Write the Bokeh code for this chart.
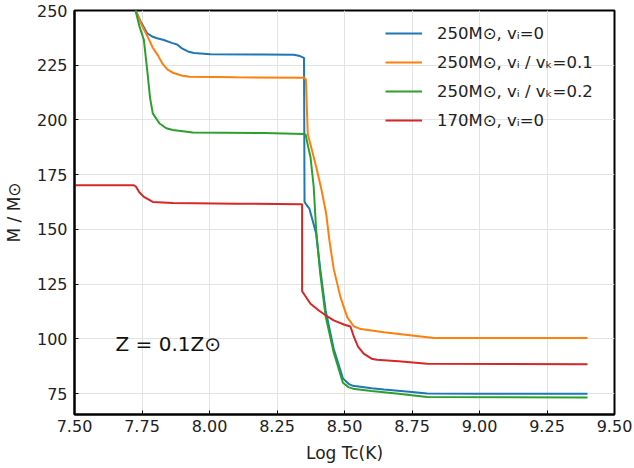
from bokeh.plotting import figure
from bokeh.models import FixedTicker, NumeralTickFormatter, Range1d, Label
from bokeh.embed import file_html
from bokeh.resources import INLINE

# --- data ---
blue_x = [7.726, 7.745, 7.769, 7.790, 7.806, 7.831, 7.860, 7.880, 7.898, 7.920, 7.942, 8.004,
          8.200, 8.312, 8.335, 8.350, 8.352, 8.358, 8.370, 8.380, 8.395, 8.410, 8.430, 8.460,
          8.494, 8.515, 8.531, 8.600, 8.646, 8.750, 8.806, 9.000, 9.400]
blue_y = [250.0, 245.0, 239.6, 238.0, 237.3, 236.5, 235.2, 234.5, 232.7, 231.3, 230.6, 230.0,
          229.9, 229.8, 229.2, 228.4, 162.6, 161.5, 159.5, 155.0, 148.0, 132.0, 113.0, 95.5,
          82.0, 79.5, 78.6, 77.5, 76.9, 75.8, 75.1, 75.0, 75.0]

orange_x = [7.726, 7.750, 7.769, 7.790, 7.809, 7.827, 7.845, 7.864, 7.900, 7.926, 8.100, 8.350,
            8.357, 8.364, 8.380, 8.395, 8.415, 8.432, 8.444, 8.460, 8.485, 8.510, 8.534, 8.560,
            8.646, 8.750, 8.831, 9.150, 9.400]
orange_y = [250.0, 243.0, 238.5, 233.0, 229.5, 225.5, 223.0, 221.6, 220.2, 219.7, 219.5, 219.3,
            218.5, 193.5, 186.0, 178.6, 168.0, 157.3, 145.1, 132.0, 119.1, 110.0, 105.8, 104.5,
            103.1, 101.6, 100.4, 100.4, 100.4]

green_x = [7.726, 7.740, 7.757, 7.770, 7.780, 7.790, 7.815, 7.840, 7.864, 7.938, 8.200, 8.350,
           8.356, 8.365, 8.374, 8.386, 8.395, 8.410, 8.430, 8.460, 8.494, 8.515, 8.531, 8.600,
           8.700, 8.806, 9.400]
green_y = [250.0, 243.0, 236.5, 222.0, 210.0, 203.0, 198.4, 196.2, 195.4, 194.3, 194.0, 193.6,
           193.3, 188.0, 183.1, 169.4, 149.6, 130.0, 110.5, 93.8, 80.0, 78.0, 77.3, 76.2,
           75.0, 73.5, 73.3]

red_x = [7.500, 7.720, 7.728, 7.740, 7.757, 7.790, 7.864, 8.100, 8.337, 8.343, 8.343, 8.374,
         8.405, 8.430, 8.460, 8.500, 8.522, 8.528, 8.535, 8.550, 8.571, 8.600, 8.620, 8.700,
         8.806, 9.400]
red_y = [170.2, 170.2, 169.5, 167.0, 164.9, 162.6, 162.1, 161.8, 161.5, 161.5, 121.8, 116.1,
         113.0, 110.8, 108.5, 106.5, 105.7, 103.5, 100.9, 96.5, 93.3, 91.0, 90.5, 89.8,
         88.7, 88.4]

series_labels = ["250M⊙, vᵢ=0", "250M⊙, vᵢ / vₖ=0.1", "250M⊙, vᵢ / vₖ=0.2", "170M⊙, vᵢ=0"]
series_colors = ["#1f77b4", "#ff7f0e", "#2ca02c", "#d62728"]

x_ticks = [7.50, 7.75, 8.00, 8.25, 8.50, 8.75, 9.00, 9.25, 9.50]
y_ticks = [75, 100, 125, 150, 175, 200, 225, 250]

x_label = "Log Tc(K)"
y_label = "M / M⊙"
note_text = "Z = 0.1Z⊙"
note_x, note_y = 7.652, 97.5

FONT = "DejaVu Sans"

p = figure(width=634, height=468, output_backend="svg", toolbar_location=None,
           x_range=Range1d(7.5, 9.5), y_range=Range1d(65.5, 250),
           min_border_left=74, min_border_right=20, min_border_top=10, min_border_bottom=54)
p.background_fill_color = "white"
p.border_fill_color = "white"
p.outline_line_color = "black"
p.outline_line_width = 2

xs = [blue_x, orange_x, green_x, red_x]
ys = [blue_y, orange_y, green_y, red_y]
for x, y, c, lab in zip(xs, ys, series_colors, series_labels):
    p.line(x, y, line_color=c, line_width=2, legend_label=lab)

# axes
p.xaxis.ticker = FixedTicker(ticks=x_ticks)
p.yaxis.ticker = FixedTicker(ticks=y_ticks)
p.xaxis.formatter = NumeralTickFormatter(format="0.00")
for ax in (p.xaxis[0], p.yaxis[0]):
    ax.axis_line_color = "black"
    ax.axis_line_width = 2
    ax.major_tick_in = 4
    ax.major_tick_out = 0
    ax.major_tick_line_color = "black"
    ax.major_tick_line_width = 1
    ax.minor_tick_line_color = None
    ax.major_label_text_font = FONT
    ax.major_label_text_font_size = "16px"
    ax.major_label_text_color = "#222222"
    ax.axis_label_text_font = FONT
    ax.axis_label_text_font_size = "17px"
    ax.axis_label_text_font_style = "normal"
    ax.axis_label_text_color = "#222222"
p.xaxis.major_label_standoff = 5
p.yaxis.major_label_standoff = 7
p.xaxis.axis_label = x_label
p.yaxis.axis_label = y_label
p.xaxis.axis_label_standoff = 8
p.yaxis.axis_label_standoff = 10

p.grid.grid_line_color = "#e3e3e3"
p.grid.grid_line_width = 1

# annotation
p.add_layout(Label(x=note_x, y=note_y, text=note_text, text_font=FONT,
                   text_font_size="20px", text_color="#111111", text_baseline="middle"))

# legend
lg = p.legend[0]
lg.location = (305, 278)
lg.border_line_alpha = 0
lg.background_fill_alpha = 0
lg.label_text_font = FONT
lg.label_text_font_size = "16.5px"
lg.label_text_color = "#222222"
lg.glyph_width = 37
lg.glyph_height = 20
lg.label_height = 20
lg.label_standoff = 15
lg.spacing = 9
lg.padding = 6
lg.margin = 0

open("out.html", "w").write(file_html(p, INLINE))
